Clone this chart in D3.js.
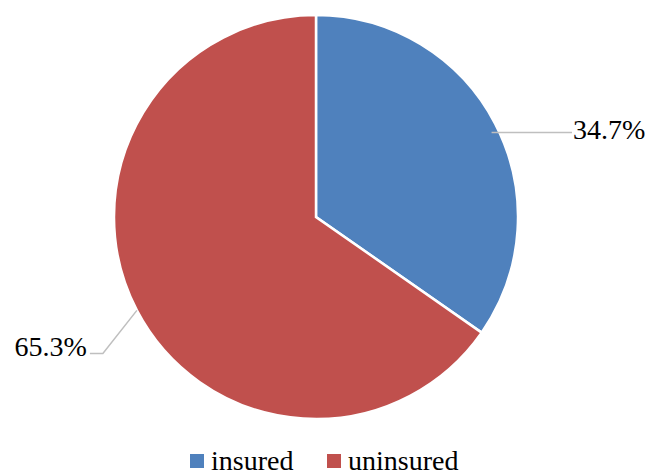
<!DOCTYPE html>
<html>
<head>
<meta charset="utf-8">
<script src="https://cdn.jsdelivr.net/npm/d3@7"></script>
<style>
  html, body { margin: 0; padding: 0; background: #ffffff; }
  svg { display: block; }
</style>
</head>
<body>
<svg id="chart" width="649" height="475"></svg>
<script>
// Share of respondents by insurance status
const categories = ["insured", "uninsured"];
const shares = [34.7, 65.3];
const colors = ["#4F81BD", "#C0504D"];

const width = 649, height = 475;
const cx = 316, cy = 217, radius = 202;
const serif = '"Liberation Serif", "Times New Roman", Tinos, serif';

const svg = d3.select("#chart");
const g = svg.append("g").attr("transform", `translate(${cx},${cy})`);

const data = categories.map((c, i) => ({ category: c, value: shares[i], color: colors[i] }));

const pie = d3.pie().value(d => d.value).sort(null);
const arcs = pie(data);
const arc = d3.arc().innerRadius(0).outerRadius(radius);

g.selectAll("path.slice")
  .data(arcs)
  .join("path")
  .attr("class", "slice")
  .attr("d", arc)
  .attr("fill", d => d.data.color)
  .attr("stroke", "#ffffff")
  .attr("stroke-width", 2.5)
  .attr("stroke-linejoin", "miter");

// Leader lines and percentage labels
const fmt = v => v.toFixed(1) + "%";
const labelFont = 28;

arcs.forEach(d => {
  const mid = (d.startAngle + d.endAngle) / 2;
  const right = Math.sin(mid) > 0;
  const pt = (r, a) => [r * Math.sin(a), -r * Math.cos(a)];
  let points, tx, ty, anchor;
  if (right) {
    const start = pt(radius - 4, mid);
    const yLine = start[1] + 7;
    points = [[start[0], yLine], [256, yLine]];
    tx = 257; ty = yLine + 7; anchor = "start";
  } else {
    const start = pt(radius, mid);
    const elbow = [start[0] - 34, start[1] + 43];
    points = [start, elbow, [elbow[0] - 13, elbow[1]]];
    tx = elbow[0] - 16; ty = elbow[1] + 3; anchor = "end";
  }
  g.append("polyline")
    .attr("points", points.map(p => p.join(",")).join(" "))
    .attr("fill", "none")
    .attr("stroke", "#BFBFBF")
    .attr("stroke-width", 1.5);
  g.append("text")
    .attr("x", tx)
    .attr("y", ty)
    .attr("text-anchor", anchor)
    .style("font-family", serif)
    .style("font-size", labelFont + "px")
    .style("fill", "#000")
    .text(fmt(d.data.value));
});

// Legend
const legend = svg.append("g").attr("transform", "translate(190,470)");
const legendX = d3.scaleOrdinal().domain(categories).range([0, 137]);
const item = legend.selectAll("g.item")
  .data(data)
  .join("g")
  .attr("class", "item")
  .attr("transform", d => `translate(${legendX(d.category)},0)`);
item.append("rect")
  .attr("x", 0)
  .attr("y", -16)
  .attr("width", 14)
  .attr("height", 14)
  .attr("fill", d => d.color);
item.append("text")
  .attr("x", 21)
  .attr("y", 0)
  .style("font-family", serif)
  .style("font-size", "28px")
  .style("fill", "#000")
  .text(d => d.category);
</script>
</body>
</html>
